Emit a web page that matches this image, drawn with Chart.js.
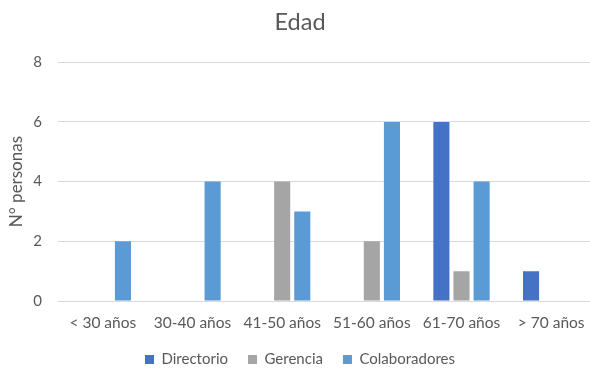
<!DOCTYPE html>
<html>
<head>
<meta charset="utf-8">
<script src="https://cdn.jsdelivr.net/npm/chart.js@4/dist/chart.umd.min.js"></script>
<style>
  html, body { margin: 0; padding: 0; background: #fff; overflow: hidden; }
  #wrap { width: 596px; height: 369px; }
</style>
</head>
<body>
<div id="wrap"><canvas id="c" width="596" height="369"></canvas></div>
<script>
const categories = ['< 30 años', '30-40 años', '41-50 años', '51-60 años', '61-70 años', '> 70 años'];
const directorio = [0, 0, 0, 0, 6, 1];
const gerencia = [0, 0, 4, 2, 1, 0];
const colaboradores = [2, 4, 3, 6, 4, 0];
const yTicks = [0, 2, 4, 6, 8];

const textColor = '#595959';
const fontFamily = 'Lato, "Open Sans", sans-serif';

new Chart(document.getElementById('c'), {
  type: 'bar',
  data: {
    labels: categories,
    datasets: [
      { label: 'Directorio', data: directorio, backgroundColor: '#4472C4' },
      { label: 'Gerencia', data: gerencia, backgroundColor: '#A5A5A5' },
      { label: 'Colaboradores', data: colaboradores, backgroundColor: '#5B9BD5' }
    ]
  },
  options: {
    responsive: false,
    animation: false,
    datasets: { bar: { categoryPercentage: 0.673, barPercentage: 0.8 } },
    layout: { padding: { left: 4, right: 0, top: 4, bottom: -8 } },
    plugins: {
      title: {
        display: true,
        text: 'Edad',
        color: textColor,
        font: { family: fontFamily, size: 23.5, weight: 'normal' },
        padding: { top: 4, bottom: 26 }
      },
      legend: {
        position: 'bottom',
        labels: {
          color: textColor,
          font: { family: fontFamily, size: 15 },
          boxWidth: 9,
          boxHeight: 9,
          padding: 20
        }
      },
      tooltip: { enabled: false }
    },
    scales: {
      x: {
        afterFit: (axis) => { axis.height = 31; },
        grid: { display: false },
        border: { display: false },
        ticks: { color: textColor, font: { family: fontFamily, size: 15.5 }, maxRotation: 0, padding: 5 }
      },
      y: {
        min: 0,
        max: 8,
        afterBuildTicks: (axis) => { axis.ticks = yTicks.map(v => ({ value: v })); },
        afterFit: (axis) => { axis.width = 54; },
        grid: { color: '#D9D9D9', lineWidth: 1, drawTicks: false },
        border: { display: false },
        ticks: { color: textColor, font: { family: fontFamily, size: 15 }, padding: 16 },
        title: {
          display: true,
          text: 'N° personas',
          color: textColor,
          font: { family: fontFamily, size: 17 },
          padding: { top: 2, bottom: 0 }
        }
      }
    }
  }
});
</script>
</body>
</html>
